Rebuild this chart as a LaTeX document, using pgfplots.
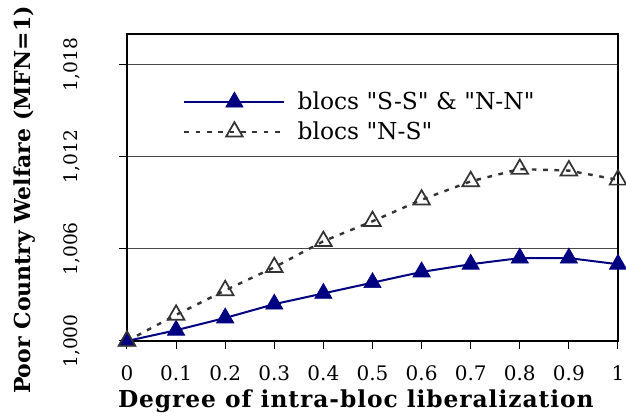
\documentclass[border=0pt]{standalone}
\usepackage{fontspec}
\setmainfont{DejaVu Serif}
\newfontfamily\dqfont{DejaVu Serif}
\usepackage{pgfplots}
\pgfplotsset{compat=1.18}
\definecolor{navyb}{RGB}{0,0,128}
\definecolor{dgray}{RGB}{51,51,51}
\newcommand{\dq}{{\dqfont\symbol{34}}}
\begin{document}
\begin{tikzpicture}
\begin{axis}[
  scale only axis, width=368.25pt, height=230.25pt,
  xmin=0, xmax=1, ymin=1, ymax=1.02,
  clip=false,
  xtick={0,0.1,0.2,0.3,0.4,0.5,0.6,0.7,0.8,0.9,1},
  xticklabels={0,0.1,0.2,0.3,0.4,0.5,0.6,0.7,0.8,0.9,1},
  ytick={1,1.006,1.012,1.018},
  yticklabels={{1,000},{1,006},{1,012},{1,018}},
  ymajorgrids, grid style={draw=black!72, line width=0.75pt},
  tick pos=left, tick align=outside, major tick length=6pt,
  tick style={black, line width=0.75pt},
  axis line style={black, line width=0.8pt},
  xticklabel style={font=\fontsize{15}{17}\selectfont},
  xticklabel shift=9pt,
  yticklabel style={font=\fontsize{14}{17}\selectfont, rotate=90, anchor=south, inner sep=0pt},
  yticklabel shift=29pt,
  xlabel={Degree of intra-bloc liberalization},
  xlabel style={font=\bfseries\fontsize{17.5}{21}\selectfont\addfontfeatures{LetterSpace=4}, at={(axis description cs:0.466,-0.218)}, anchor=base},
  ylabel={Poor Country Welfare (MFN=1)},
  ylabel style={font=\bfseries\fontsize{16.5}{20}\selectfont, at={(axis description cs:-0.2077,0.459)}, anchor=center},
  legend style={draw=none, fill=none, at={(axis description cs:0.114,0.82)}, anchor=north west,
    font=\fontsize{17.5}{21}\selectfont, row sep=3.5pt, inner sep=0pt,
    /tikz/every odd column/.append style={column sep=7pt}},
  legend cell align=left,
  legend image code/.code={\draw[mark repeat=2,mark phase=2,#1] plot coordinates {(0pt,0pt) (37.5pt,0pt) (75pt,0pt)};},
]
\addplot[navyb, line width=1.5pt, mark=triangle*, mark size=7.5pt, mark options={solid, fill=navyb, line width=0.5pt}]
  coordinates {(0,1.0000)(0.1,1.0007)(0.2,1.0015)(0.3,1.0024)(0.4,1.0031)(0.5,1.0038)(0.6,1.0045)(0.7,1.0050)(0.8,1.0054)(0.9,1.0054)(1,1.0050)};
\addlegendentry{blocs \dq S-S\dq{} \& \dq N-N\dq}
\addplot[dgray, line width=1.8pt, dash pattern=on 3.5pt off 5pt, mark=triangle, mark size=7.2pt, mark options={solid, draw=dgray, fill=none, line width=1.3pt}]
  coordinates {(0,1.0000)(0.1,1.0017)(0.2,1.0033)(0.3,1.0048)(0.4,1.0065)(0.5,1.0078)(0.6,1.0092)(0.7,1.0104)(0.8,1.0112)(0.9,1.0111)(1,1.0105)};
\addlegendentry{blocs \dq N-S\dq}
\end{axis}
\pgfresetboundingbox
\path[use as bounding box] ([xshift=-95.25pt,yshift=-56.25pt]current axis.south west) rectangle ([xshift=6pt,yshift=25.5pt]current axis.north east);
\end{tikzpicture}
\end{document}
